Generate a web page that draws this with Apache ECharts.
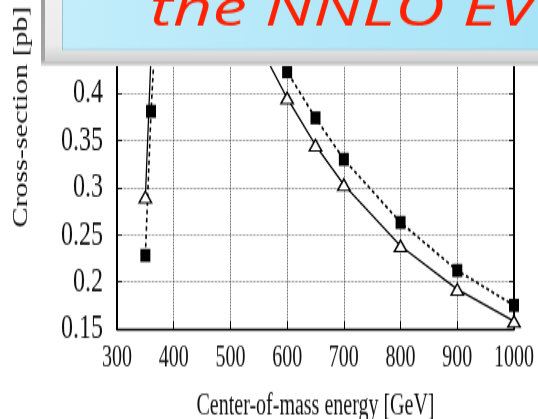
<!DOCTYPE html>
<html>
<head>
<meta charset="utf-8">
<script src="https://cdn.jsdelivr.net/npm/echarts@6/dist/echarts.min.js"></script>
<style>
html,body{margin:0;padding:0;background:#fff;overflow:hidden;}
#wrap{width:538px;height:419px;overflow:hidden;position:relative;background:#fff;}
#chart{width:538px;height:279px;transform-origin:0 0;}
</style>
</head>
<body>
<div id="wrap"><div id="chart"></div></div>
<script>
// Data
const energies = [350, 360, 370, 400, 500, 600, 650, 700, 800, 900, 1000];
const crossSectionTriangles = [0.290, 0.440, 0.520, 0.570, 0.510, 0.395, 0.345, 0.303, 0.238, 0.192, 0.158];
const crossSectionSquares   = [0.228, 0.381, 0.490, 0.590, 0.550, 0.423, 0.374, 0.330, 0.263, 0.212, 0.175];
const xTicks = [300, 400, 500, 600, 700, 800, 900, 1000];
const yTicks = [0.15, 0.2, 0.25, 0.3, 0.35, 0.4, 0.45, 0.5, 0.55, 0.6];
const bannerText = 'the NNLO EV';
const xTitle = 'Center-of-mass energy [GeV]';
const yTitle = 'Cross-section [pb]';

const H = 279;
const S = 419 / H; // vertical stretch of the original picture
document.getElementById('chart').style.transform = 'scaleY(' + S + ')';

const chart = echarts.init(document.getElementById('chart'), null, {renderer: 'canvas', width: 538, height: H});
const serif = '"Liberation Serif", "Times New Roman", serif';

const triData = energies.map((e, i) => [e, crossSectionTriangles[i]]);
const sqData = energies.map((e, i) => [e, crossSectionSquares[i]]);

chart.setOption({
  animation: false,
  backgroundColor: '#fff',
  grid: {left: 117, right: 24, top: -63.3, bottom: 60, containLabel: false, outerBoundsMode: 'none'},
  xAxis: {
    type: 'value', min: xTicks[0], max: xTicks[xTicks.length - 1], interval: 100,
    name: xTitle, nameLocation: 'middle', nameGap: 41.5,
    nameTextStyle: {fontFamily: serif, fontSize: 20, color: '#111'},
    axisLine: {show: true, onZero: false, lineStyle: {color: '#000', width: 1.4}},
    axisTick: {show: true, inside: true, length: 5, lineStyle: {color: '#000', width: 1}},
    axisLabel: {fontFamily: serif, fontSize: 20, color: '#111', margin: 10,
      formatter: v => String(v)},
    splitLine: {show: true, lineStyle: {type: 'dotted', color: '#444', width: 1}}
  },
  yAxis: [{
    type: 'value', min: yTicks[0], max: yTicks[yTicks.length - 1], interval: 0.05,
    name: yTitle, nameLocation: 'middle', nameGap: 85,
    nameTextStyle: {fontFamily: serif, fontSize: 20, color: '#111'},
    axisLine: {show: true, onZero: false, lineStyle: {color: '#000', width: 2}},
    axisTick: {show: true, inside: true, length: 5, lineStyle: {color: '#000', width: 0.8}},
    axisLabel: {fontFamily: serif, fontSize: 24, color: '#111', margin: 14,
      formatter: v => String(+v.toFixed(2))},
    splitLine: {show: true, lineStyle: {type: 'dotted', color: '#444', width: 0.7}}
  }, {
    type: 'value', position: 'right', min: yTicks[0], max: yTicks[yTicks.length - 1], interval: 0.05,
    axisLine: {show: true, onZero: false, lineStyle: {color: '#000', width: 2}},
    axisTick: {show: true, inside: true, length: 5, lineStyle: {color: '#000', width: 0.8}},
    axisLabel: {show: false},
    splitLine: {show: false}
  }],
  series: [{
    type: 'line', data: sqData, yAxisIndex: 0,
    symbol: 'rect', symbolSize: [10, 8.7],
    itemStyle: {color: '#000'},
    lineStyle: {color: '#000', width: 1.6, type: [3, 2.5]},
    z: 3
  }, {
    type: 'line', data: triData, yAxisIndex: 0,
    symbol: 'triangle', symbolSize: [12.5, 7.6],
    itemStyle: {color: '#fff', borderColor: '#000', borderWidth: 1.3},
    lineStyle: {color: '#000', width: 1.3, type: 'solid'},
    z: 4
  }],
  graphic: [{
    type: 'group', x: 0, y: 0, scaleY: 1 / S, z: 100,
    children: [
      {type: 'rect', z: 100, shape: {x: 41, y: -20, width: 497, height: 86},
        style: {fill: new echarts.graphic.LinearGradient(0, 0, 0, 1, [
          {offset: 0, color: '#9a9a9a'}, {offset: 0.93, color: '#a6a6a6'}, {offset: 1, color: '#e6e6e6'}])}},
      {type: 'rect', z: 101, shape: {x: 45, y: -20, width: 493, height: 82},
        style: {fill: new echarts.graphic.LinearGradient(0, 0, 0, 1, [
          {offset: 0, color: '#f2f2f2'}, {offset: 0.8, color: '#ebebeb'}, {offset: 1, color: '#cfcfcf'}])}},
      {type: 'rect', z: 102, shape: {x: 62, y: -20, width: 476, height: 70},
        style: {fill: new echarts.graphic.LinearGradient(0, 0, 1, 0, [
          {offset: 0, color: '#c3edfb'}, {offset: 1, color: '#a8e4f8'}])}},
      {type: 'rect', z: 102, shape: {x: 62, y: 49, width: 476, height: 1},
        style: {fill: '#93c3d0'}},
      {type: 'rect', z: 102, shape: {x: 62, y: -20, width: 1, height: 70},
        style: {fill: '#93c3d0'}},
      {type: 'group', x: 150, y: 26, scaleY: 0.7, z: 103,
        children: [{type: 'text', z: 103, x: 0, y: -20,
          style: {text: bannerText, fill: '#ff2200', verticalAlign: 'middle', align: 'left',
            font: 'italic 400 69px "Open Sans", "DejaVu Sans", sans-serif'}}]}
    ]
  }]
});
</script>
</body>
</html>
